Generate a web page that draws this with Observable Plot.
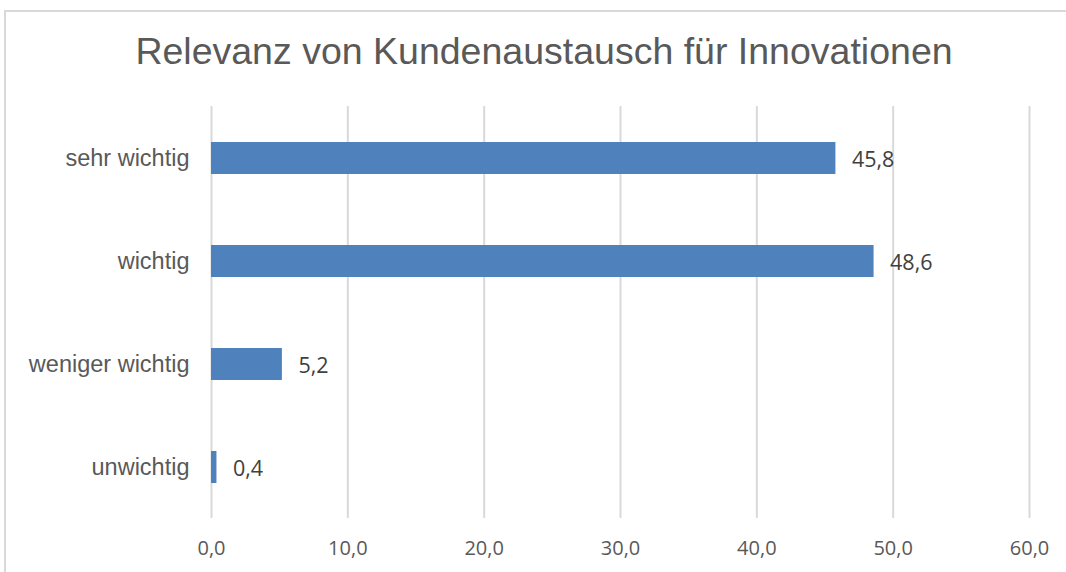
<!DOCTYPE html>
<html>
<head>
<meta charset="utf-8">
<script src="https://cdn.jsdelivr.net/npm/d3@7"></script>
<script src="https://cdn.jsdelivr.net/npm/@observablehq/plot@0.6"></script>
<style>
  html, body { margin: 0; padding: 0; background: #fff; width: 1066px; height: 572px; overflow: hidden; }
  #frame { position: absolute; left: 4px; top: 10px; width: 1200px; height: 700px;
           border-top: 2px solid #d9d9d9; border-left: 2px solid #d9d9d9; }
  #title { position: absolute; top: 30px; left: 0; width: 1088px; text-align: center;
           font-family: Arial, "Liberation Sans", sans-serif; font-size: 37.5px; color: #595959; }
  #chart { position: absolute; left: 0; top: 0; }
</style>
</head>
<body>
<div id="frame"></div>
<div id="title">Relevanz von Kundenaustausch für Innovationen</div>
<div id="chart"></div>
<script>
const categories = ["sehr wichtig", "wichtig", "weniger wichtig", "unwichtig"];
const values = [45.8, 48.6, 5.2, 0.4];
const xTicks = [0, 10, 20, 30, 40, 50, 60];

const data = categories.map((c, i) => ({category: c, value: values[i]}));
const fmt = v => d3.format(".1f")(v).replace(".", ",");

const chart = Plot.plot({
  width: 1066,
  height: 572,
  marginLeft: 211,
  marginRight: 37,
  marginTop: 106,
  marginBottom: 54,
  style: {background: "transparent", overflow: "visible"},
  x: {domain: [0, 60], ticks: xTicks, tickFormat: fmt, label: null},
  y: {domain: categories, padding: 0.69, paddingOuter: 0.345, label: null},
  marks: [
    Plot.gridX(xTicks, {stroke: "#d9d9d9", strokeOpacity: 1, strokeWidth: 2}),
    Plot.barX(data, {y: "category", x: "value", fill: "#4f81bd"}),
    Plot.text(data, {y: "category", x: "value", text: d => fmt(d.value), dx: 16, dy: 2,
      textAnchor: "start", fill: "#404040", fontSize: 21.5,
      fontFamily: "'Open Sans', sans-serif"}),
    Plot.axisX(xTicks, {tickSize: 0, tickPadding: 22, tickFormat: fmt, fontSize: 20,
      fill: "#595959", fontFamily: "'Open Sans', sans-serif", label: null}),
    Plot.axisY({tickSize: 0, tickPadding: 22, fontSize: 23.5, fill: "#595959",
      fontFamily: "Arial, 'Liberation Sans', sans-serif", label: null})
  ]
});
document.getElementById("chart").appendChild(chart);
</script>
</body>
</html>
